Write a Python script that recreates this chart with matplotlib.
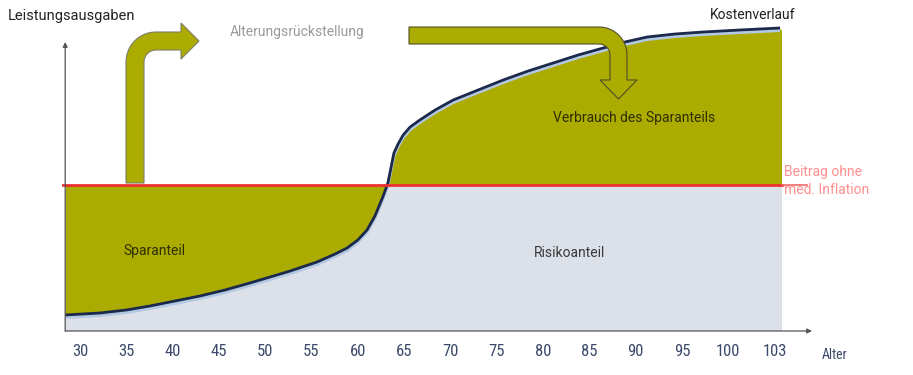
import numpy as np
import matplotlib
matplotlib.use("Agg")
import matplotlib.pyplot as plt
from matplotlib.patches import Polygon, Rectangle
from matplotlib import font_manager

# x positions are tick slots (0 = age 30, 14 = age 100, 15 = age 103)
age_labels = ["30", "35", "40", "45", "50", "55", "60", "65", "70", "75",
              "80", "85", "90", "95", "100", "103"]

# cost curve (Kostenverlauf)
curve_pos = [-0.32, 0.43, 1.00, 1.51, 2.05, 2.59, 3.13, 3.67, 4.54, 5.12,
             5.51, 5.77, 6.00, 6.20, 6.37, 6.54, 6.65, 6.72, 6.78, 6.87,
             6.98, 7.13, 7.34, 7.67, 8.06, 8.60, 9.14, 9.68, 10.22, 10.76,
             11.30, 11.77, 12.25, 12.85, 13.46, 14.25, 15.12]
curve_val = [16, 18, 21, 25, 30, 35, 41, 48, 60, 69,
             77, 83, 91, 101, 115, 134, 148, 164, 178, 187,
             196, 204, 211, 221, 231, 241, 251, 260, 268, 276,
             283, 289, 294, 297, 299, 301, 303]

premium = 146          # Beitrag ohne med. Inflation
x_start, x_end = -0.32, 15.16

OLIVE = "#acab00"
GREY = "#dce0e8"
NAVY = "#1b2a4c"
RED = "#ee3030"
TICK = "#3b4a6b"

installed = {f.name for f in font_manager.fontManager.ttflist}
narrow = [f for f in ["Roboto Condensed", "Liberation Sans Narrow", "Open Sans Condensed"]
          if f in installed]
tick_font = narrow + ["Roboto", "DejaVu Sans"]
txt_font = ["Roboto", "DejaVu Sans"]

fig = plt.figure(figsize=(9.13, 3.75), dpi=100)
ax = fig.add_axes([0, 0, 1, 1])
ax.set_xlim(-80 / 46.3, 833 / 46.3)
ax.set_ylim(-44, 331)
ax.axis("off")

# risk part (grey) below the premium line
ax.add_patch(Rectangle((x_start, 0), x_end - x_start, premium, facecolor=GREY,
                       edgecolor="none", zorder=1))

x = np.array(curve_pos)
y = np.array(curve_val)
ax.fill_between(x, y, premium, color=OLIVE, lw=0, zorder=2)
ax.fill_between([x[-1], x_end], [y[-1] - 2, y[-1] - 2], premium, color=OLIVE, lw=0, zorder=2)
ax.plot(x, y - 2.5, color="#b3c8e2", lw=2.2, zorder=3, solid_capstyle="butt")
ax.plot(x, y, color=NAVY, lw=2, zorder=4, solid_capstyle="butt")

ax.plot([x_start - 0.05, x_end], [premium, premium], color=RED, lw=2, zorder=5)
ax.plot([x_end, x_end + 0.55], [premium, premium], color="#f36a6a", lw=1.2, zorder=5)

# axes arrows
for tip in [(x_start, 289), ((812 - 80) / 46.3, 0)]:
    ax.annotate("", xy=tip, xytext=(x_start, 0),
                arrowprops=dict(arrowstyle="-|>", color="#555555", lw=0.9,
                                mutation_scale=7, shrinkA=0, shrinkB=0), zorder=6)

for i, lab in enumerate(age_labels):
    ax.text(i, -21, lab, ha="center", va="center", fontsize=12,
            color=TICK, family=tick_font)

# overlay in pixel coordinates for the decorations
ov = fig.add_axes([0, 0, 1, 1])
ov.set_xlim(0, 913)
ov.set_ylim(375, 0)
ov.axis("off")
ov.patch.set_alpha(0)


def arc(cx, cy, r, a0, a1, n=20):
    t = np.linspace(a0, a1, n)
    return list(zip(cx + r * np.cos(t), cy + r * np.sin(t)))


# arrow up then right (Alterungsrückstellung)
R, w = 30, 18
cx, cy = 126 + R, 32 + R
pts = [(126, 183)]
pts += arc(cx, cy, R, np.pi, 1.5 * np.pi)
pts += [(181, 32), (181, 23), (199, 41), (181, 59), (181, 50)]
pts += arc(cx, cy, R - w, 1.5 * np.pi, np.pi)
pts += [(144, 183)]
ov.add_patch(Polygon(pts, closed=True, facecolor=OLIVE, edgecolor="#7d7d6a", lw=0.8, zorder=7))

# arrow right then down (Verbrauch)
R, w = 28, 17
cx, cy = 627 - R, 27 + R
pts = [(409, 27)]
pts += arc(cx, cy, R, -0.5 * np.pi, 0)
pts += [(627, 80), (637, 80), (618.5, 99), (600, 80), (610, 80)]
pts += arc(cx, cy, R - w, 0, -0.5 * np.pi)
pts += [(409, 44)]
ov.add_patch(Polygon(pts, closed=True, facecolor=OLIVE, edgecolor="#4f4f2a", lw=0.8, zorder=7))

ov.text(8, 16, "Leistungsausgaben", ha="left", va="center", fontsize=10.5,
        color="#222222", family=txt_font)
ov.text(230, 32, "Alterungsrückstellung", ha="left", va="center", fontsize=10,
        color="#9a9a9a", family=txt_font)
ov.text(710, 15, "Kostenverlauf", ha="left", va="center", fontsize=10,
        color="#222222", family=txt_font)
ov.text(553, 118, "Verbrauch des Sparanteils", ha="left", va="center", fontsize=10,
        color="#2e2e00", family=txt_font, zorder=8)
ov.text(123, 251, "Sparanteil", ha="left", va="center", fontsize=10,
        color="#2e2e00", family=txt_font, zorder=8)
ov.text(534, 253, "Risikoanteil", ha="left", va="center", fontsize=10,
        color="#3a3a3a", family=txt_font, zorder=8)
ov.text(784, 172, "Beitrag ohne", ha="left", va="center", fontsize=10,
        color="#ff8f8f", family=txt_font)
ov.text(784, 190, "med. Inflation", ha="left", va="center", fontsize=10,
        color="#ff8f8f", family=txt_font)
ov.text(822, 355, "Alter", ha="left", va="center", fontsize=10,
        color=TICK, family=tick_font)

fig.savefig("out.png", dpi=100)
